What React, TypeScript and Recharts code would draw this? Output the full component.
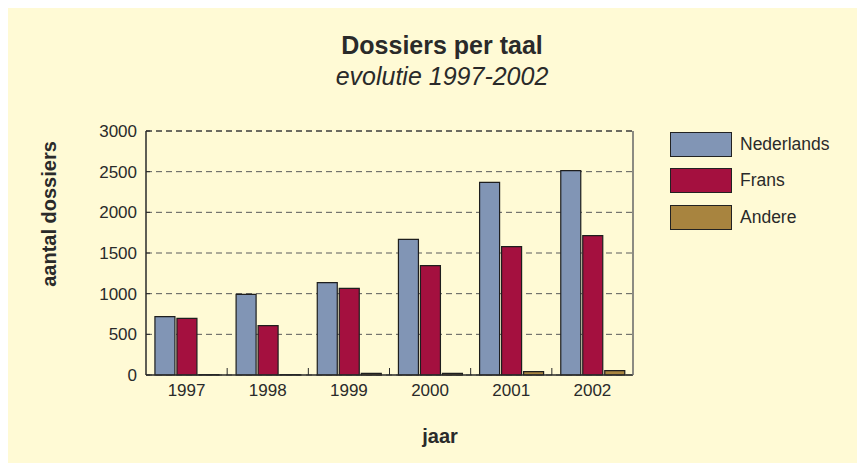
import { BarChart, Bar, XAxis, YAxis, CartesianGrid, Legend, ReferenceLine } from 'recharts'

const years = ['1997', '1998', '1999', '2000', '2001', '2002']
const nederlands = [717, 992, 1135, 1668, 2369, 2512]
const frans = [697, 606, 1066, 1344, 1578, 1713]
const andere = [5, 5, 21, 21, 41, 53]
const yTicks = [0, 500, 1000, 1500, 2000, 2500, 3000]
const seriesNames = ['Nederlands', 'Frans', 'Andere']

const data = years.map((year, i) => ({
  year,
  Nederlands: nederlands[i],
  Frans: frans[i],
  Andere: andere[i],
}))

const W = 857
const H = 459
// plot area: x 138..625, y 127..371 (inside the cream panel)
const margin = { top: 127, right: 172, bottom: 58, left: 0 }
const yAxisWidth = 138
const band = (625 - 138) / years.length

const font = '"Liberation Sans", Arial, sans-serif'
const ink = '#2a2a2a'

interface TickProps {
  x?: number
  y?: number
  index?: number
  payload?: { value: string }
}

const YearTick = ({ x = 0, y = 0, index = 0, payload }: TickProps) => (
  <g>
    {index > 0 && (
      <line x1={x - band / 2} x2={x - band / 2} y1={y} y2={y - 7} stroke={ink} strokeWidth={1} />
    )}
    <text x={x} y={y + 21} textAnchor="middle" fill={ink} fontSize={17} fontFamily={font}>
      {payload?.value}
    </text>
  </g>
)

interface LegendProps {
  payload?: Array<{ value: string; color: string }>
}

const LegendBox = ({ payload }: LegendProps) => {
  const items = [...(payload ?? [])].sort(
    (a, b) => seriesNames.indexOf(a.value) - seriesNames.indexOf(b.value)
  )
  return (
    <div>
      {items.map((entry) => (
        <div key={entry.value} style={{ display: 'flex', alignItems: 'center', height: 36.5 }}>
          <div
            style={{
              width: 60,
              height: 23,
              background: entry.color,
              border: '1px solid #222',
            }}
          />
          <span style={{ marginLeft: 8, fontSize: 17.5, color: ink, fontFamily: font }}>{entry.value}</span>
        </div>
      ))}
    </div>
  )
}

export default function App() {
  return (
    <div
      style={{
        position: 'relative',
        width: W,
        height: H,
        marginTop: -4,
        background: '#FFFAD5',
        fontFamily: font,
      }}
    >
      <div
        style={{
          position: 'absolute',
          top: 27,
          left: 0,
          width: 868,
          textAlign: 'center',
          fontSize: 25,
          fontWeight: 'bold',
          color: ink,
        }}
      >
        Dossiers per taal
      </div>
      <div
        style={{
          position: 'absolute',
          top: 58,
          left: 0,
          width: 868,
          textAlign: 'center',
          fontSize: 25,
          fontStyle: 'italic',
          color: ink,
        }}
      >
        evolutie 1997-2002
      </div>
      <div
        style={{
          position: 'absolute',
          left: 41,
          top: 210,
          transform: 'translate(-50%, -50%) rotate(-90deg)',
          whiteSpace: 'nowrap',
          fontSize: 20,
          fontWeight: 'bold',
          color: ink,
        }}
      >
        aantal dossiers
      </div>
      <div
        style={{
          position: 'absolute',
          top: 421,
          left: 0,
          width: 864,
          textAlign: 'center',
          fontSize: 20,
          fontWeight: 'bold',
          color: ink,
        }}
      >
        jaar
      </div>
      <BarChart
        width={W}
        height={H}
        data={data}
        margin={margin}
        barCategoryGap="11%"
        barGap={2}
        style={{ position: 'absolute', top: 0, left: 0 }}
      >
        <CartesianGrid vertical={false} stroke="#5a5a5a" strokeDasharray="6 4" />
        <ReferenceLine y={3000} stroke="#2a2a2a" strokeDasharray="6 4" />
        <XAxis
          dataKey="year"
          height={30}
          axisLine={{ stroke: ink, strokeWidth: 1.5 }}
          tickLine={false}
          tickSize={0}
          tickMargin={0}
          tick={<YearTick />}
          interval={0}
        />
        <YAxis
          domain={[0, 3000]}
          ticks={yTicks}
          width={yAxisWidth}
          axisLine={{ stroke: ink, strokeWidth: 1.5 }}
          tickLine={{ stroke: ink }}
          tickSize={-4}
          tickMargin={13}
          tick={{ fill: ink, fontSize: 17, fontFamily: font }}
          interval={0}
        />
        <YAxis
          yAxisId="right"
          orientation="right"
          width={60}
          tick={false}
          tickLine={false}
          axisLine={{ stroke: '#666', strokeWidth: 1.5 }}
        />
        <Legend
          layout="horizontal"
          verticalAlign="middle"
          align="center"
          content={<LegendBox />}
          wrapperStyle={{ position: 'absolute', top: 122, left: 662, width: 180 }}
        />
        <Bar dataKey="Nederlands" fill="#8195B5" stroke="#1e1e1e" strokeWidth={1.2} isAnimationActive={false} />
        <Bar dataKey="Frans" fill="#A4103F" stroke="#1e1e1e" strokeWidth={1.2} isAnimationActive={false} />
        <Bar dataKey="Andere" fill="#A8843F" stroke="#1e1e1e" strokeWidth={1.2} isAnimationActive={false} />
      </BarChart>
    </div>
  )
}
